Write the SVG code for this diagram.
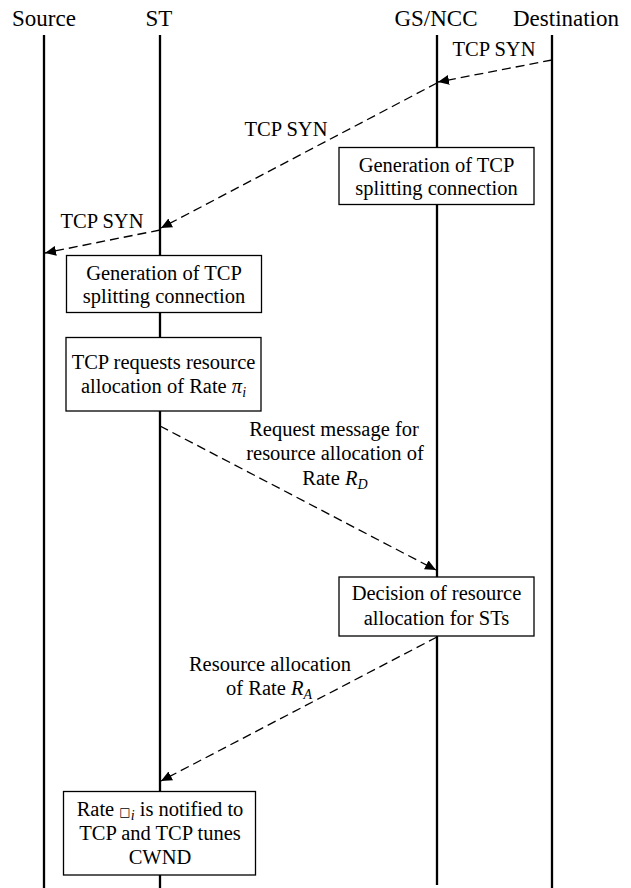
<svg xmlns="http://www.w3.org/2000/svg" width="631" height="888" viewBox="0 0 631 888">
<defs>
<style>
.hdr{font-size:23px;text-anchor:middle;}
.t{font-size:20.5px;text-anchor:middle;}
.it{font-style:italic;}
.life{stroke:#000;stroke-width:2.3;fill:none;}
.box{fill:#fff;stroke:#000;stroke-width:1.3;}
.msg{stroke:#000;stroke-width:1.3;fill:none;stroke-dasharray:9 5;marker-end:url(#ah);}
</style>
<marker id="ah" markerUnits="userSpaceOnUse" markerWidth="12" markerHeight="10" refX="11" refY="5" orient="auto">
<path d="M0,0 L11,5 L0,10 Z" fill="#000"/>
</marker>
</defs>
<rect width="631" height="888" fill="#fff"/>
<g font-family="'Liberation Serif', 'DejaVu Serif', 'Times New Roman', Times, serif" fill="#000">
<g id="source">
<text class="hdr" x="44" y="26">Source</text>
<line class="life" x1="44" y1="35" x2="44" y2="888"/>
</g>
<g id="st">
<text class="hdr" x="159" y="26">ST</text>
<line class="life" x1="160" y1="35" x2="160" y2="888"/>
</g>
<g id="gsncc">
<text class="hdr" x="436" y="26">GS/NCC</text>
<line class="life" x1="437" y1="35" x2="437" y2="885"/>
</g>
<g id="destination">
<text class="hdr" x="566" y="26">Destination</text>
<line class="life" x1="552" y1="35" x2="552" y2="888"/>
</g>

<g id="connectors">
<line class="msg" x1="552" y1="60" x2="438" y2="82"/>
<line class="msg" x1="437" y1="83" x2="161" y2="228"/>
<line class="msg" x1="160" y1="230" x2="45" y2="253"/>
<line class="msg" x1="160" y1="426" x2="436" y2="570"/>
<line class="msg" x1="437" y1="637" x2="161" y2="781"/>
<text class="t" x="494" y="56">TCP SYN</text>
<text class="t" x="286" y="136">TCP SYN</text>
<text class="t" x="102" y="228">TCP SYN</text>
<text class="t" x="334" y="436">Request message for</text>
<text class="t" x="335" y="460">resource allocation of</text>
<text class="t" x="335" y="485">Rate <tspan class="it">R</tspan><tspan class="it" font-size="14" dy="4">D</tspan></text>
<text class="t" x="270" y="671">Resource allocation</text>
<text class="t" x="269" y="695">of Rate <tspan class="it">R</tspan><tspan class="it" font-size="14" dy="4">A</tspan></text>
</g>

<g id="gs-gen">
<rect class="box" x="339" y="147.5" width="195" height="57"/>
<text class="t" x="436.5" y="171.5">Generation of TCP</text>
<text class="t" x="436.5" y="194.5">splitting connection</text>
</g>
<g id="st-gen">
<rect class="box" x="66.5" y="255.5" width="195" height="57"/>
<text class="t" x="164" y="279.5">Generation of TCP</text>
<text class="t" x="164" y="302.5">splitting connection</text>
</g>
<g id="st-request">
<rect class="box" x="66" y="337.5" width="195" height="73.5"/>
<text class="t" x="163.5" y="368.5">TCP requests resource</text>
<text class="t" x="163.5" y="392.5">allocation of Rate <tspan class="it">π</tspan><tspan class="it" font-size="14" dy="4">i</tspan></text>
</g>
<g id="gs-decision">
<rect class="box" x="339" y="577" width="195" height="59"/>
<text class="t" x="436.5" y="600">Decision of resource</text>
<text class="t" x="436.5" y="625">allocation for STs</text>
</g>
<g id="st-notify">
<rect class="box" x="63.5" y="791.5" width="192" height="83.5"/>
<text class="t" x="160" y="816">Rate <tspan font-family="'DejaVu Sans', sans-serif" font-size="12">□</tspan><tspan class="it" font-size="14" dy="4">i</tspan><tspan dy="-4"> is notified to</tspan></text>
<text class="t" x="160" y="840">TCP and TCP tunes</text>
<text class="t" x="160" y="863.5">CWND</text>
</g>
</g>
</svg>
